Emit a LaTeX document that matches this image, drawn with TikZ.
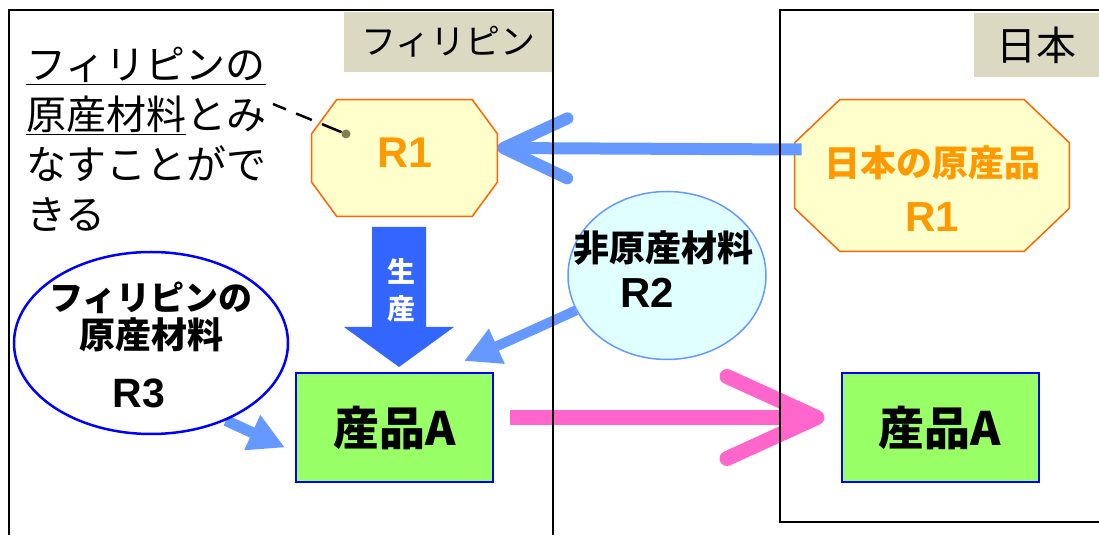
\documentclass[tikz,border=0pt]{standalone}
\usepackage{fontspec}
\setmainfont{Noto Sans CJK JP}
\newfontfamily\latfont{Liberation Sans}
\usepackage{tikz}
\usetikzlibrary{arrows.meta}
\usetikzlibrary{backgrounds}
\usetikzlibrary{positioning}
\usetikzlibrary{shapes.geometric}
\definecolor{labelbg}{RGB}{219,217,193}
\definecolor{octfill}{RGB}{255,255,204}
\definecolor{octline}{RGB}{255,102,0}
\definecolor{octtext}{RGB}{255,153,0}
\definecolor{paleblue}{RGB}{102,153,255}
\definecolor{makeblue}{RGB}{51,102,255}
\definecolor{nonfill}{RGB}{224,255,255}
\definecolor{goodgreen}{RGB}{153,255,102}
\definecolor{exportpink}{RGB}{255,102,204}
\definecolor{dotgray}{RGB}{128,128,80}

% octagon round a node: name, x cut, y cut
\newcommand{\octround}[3]{%
  \draw[line width=1.5pt, draw=octline, fill=octfill]
    ([xshift=#2]#1.north west) -- ([xshift=-#2]#1.north east)
    -- ([yshift=-#3]#1.north east) -- ([yshift=#3]#1.south east)
    -- ([xshift=-#2]#1.south east) -- ([xshift=#2]#1.south west)
    -- ([yshift=#3]#1.south west) -- ([yshift=-#3]#1.north west) -- cycle;}

\begin{document}
\begin{tikzpicture}[
            x = 1pt, y = 1pt, % one unit per pixel
            line join = miter,
            semithick
        ]

        \tikzstyle{region label}=[
            fill = labelbg,
            inner sep = 0pt,
            font = \fontsize{35}{35}\selectfont
        ]
        \tikzstyle{octa}=[
            inner sep = 0pt,
            text = octtext
        ]
        \tikzstyle{good}=[
            draw = blue,
            line width = 2pt,
            fill = goodgreen,
            minimum width = 197pt,
            minimum height = 109pt,
            inner sep = 0pt,
            font = \bfseries\fontsize{46}{46}\selectfont
        ]
        \tikzstyle{pale arrow}=[
            draw = paleblue,
            line width = 11pt,
            -{Triangle[length=36pt, width=36pt]}
        ]
        \tikzstyle{frame}=[
            draw = black,
            line width = 1.8pt
        ]

        \useasboundingbox (0,0) rectangle (1099,535);

	% philippines
        \node[octa, minimum width=185pt, minimum height=116pt, text depth=11pt,
              font=\latfont\bfseries\fontsize{43}{43}\selectfont] (R1) at (404.5,377) {R1};
        \node[good] (A1) at (394.5,107.5) {産品A};
        \node[ellipse, draw=blue, line width=2.5pt, fill=white, inner sep=0pt,
              minimum width=274pt, minimum height=182pt] (R3) at (151,192) {};
        \node[align=center, inner sep=0pt, font=\bfseries\fontsize{34}{38}\selectfont] (R3text) at (151,190.5)
              {フィリピンの\\ \fontsize{36}{38}\selectfont 原産材料\\[21pt]
               \latfont\bfseries\fontsize{41}{41}\selectfont R3\hspace*{24pt}};
        \node[ellipse, draw=paleblue, line width=1.5pt, fill=nonfill, inner sep=0pt,
              minimum width=198pt, minimum height=168pt] (R2) at (667,259.5) {};
        \node[align=center, inner sep=0pt, font=\bfseries\fontsize{36}{46.5}\selectfont] (R2text) at (663.5,266)
              {非原産材料\\ \latfont\bfseries\fontsize{42}{42}\selectfont R2\hspace*{32pt}};

        % note
        \node[inner sep=0pt, anchor=north west, align=left,
              font=\fontsize{40}{50}\selectfont] (note) at (26,488)
              {\underline{フィリピンの}\\ \underline{原産材料}とみ\\ なすことがで\\ きる};
        \node[circle, fill=dotgray, inner sep=0pt, minimum size=9pt] (dot) at (346,401) {};
        \coordinate (noteend) at (273,431);
        \draw[line width=2.5pt, dash pattern={on 14pt off 11pt on 17pt off 11pt on 30pt off 10pt}]
            (noteend) -- (dot);

        % production
        \fill[makeblue] (372,308) -- (426,308) -- (426,208) -- (454,208) -- (399,168)
            -- (344,208) -- (372,208) -- cycle;
        \node[text=white, align=center, inner sep=0pt,
              font=\bfseries\fontsize{28}{37}\selectfont] (make) at (401,244.5) {生\\産};

	% japan
        \node[octa, minimum width=274pt, minimum height=151pt, align=center,
              font=\bfseries\fontsize{36}{55}\selectfont] (JR1) at (932,359.5)
              {\rule{0pt}{58pt}日本の原産品\\ \latfont\bfseries\fontsize{42}{42}\selectfont R1};
        \node[good] (A2) at (940,107.5) {産品A};

        \begin{scope}[on background layer]
        \octround{R1}{25pt}{34pt}
        \octround{JR1}{45pt}{43pt}
        \draw[pale arrow] (R3.-46) -- ([xshift=-10pt,yshift=-20pt]A1.west);
        \draw[pale arrow, line width=10pt] (R2.201) -- ([xshift=-30pt,yshift=11pt]A1.north east);
        \draw[draw=paleblue, line width=12pt, -{Straight Barb[length=64pt, width=60pt, round]}]
            ([shift={(7pt,26pt)}]JR1.west) -- ([yshift=10pt]R1.east);
        \draw[draw=exportpink, line width=15pt, -{Straight Barb[length=90pt, width=82pt, round]}]
            ([shift={(16pt,10pt)}]A1.east) -- ([shift={(-16pt,10pt)}]A2.west);
        \end{scope}

        % frames
        \node[region label, minimum width=209pt, minimum height=60pt] (ph) at (448.5,493) {フィリピン};
        \node[region label, minimum width=125pt, minimum height=64pt,
              font=\fontsize{40}{40}\selectfont] (jp) at (1036.5,490) {日本};
        \draw[frame] (9,0) -- (9,525) -- (553,525) -- (553,0);
        \draw[frame] (1099,525) -- (780,525) -- (780,13) -- (1099,13);

\end{tikzpicture}
\end{document}
